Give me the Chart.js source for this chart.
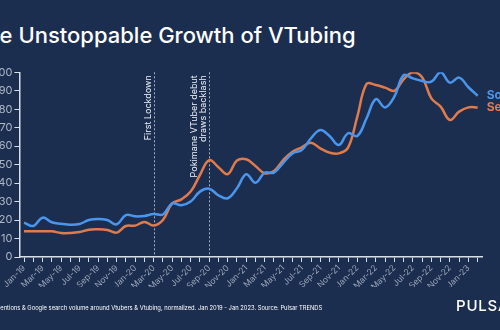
<!DOCTYPE html>
<html>
<head>
<meta charset="utf-8">
<script src="https://cdn.jsdelivr.net/npm/chart.js@4.4.0/dist/chart.umd.min.js"></script>
<style>
    html, body { margin: 0; padding: 0; }
    body {
        width: 500px;
        height: 330px;
        overflow: hidden;
        position: relative;
        background: #1c2e50;
        font-family: Inter, "Noto Sans", sans-serif;
        color: #ffffff;
    }
    .title {
        position: absolute;
        left: 0;
        top: 24px;
        font-size: 22px;
        line-height: 22px;
        font-weight: 500;
        white-space: nowrap;
    }
    #wrap {
        position: absolute;
        left: -30px;
        top: 0;
        width: 540px;
        height: 330px;
    }
    .note {
        position: absolute;
        left: 0;
        top: 303.5px;
        font-size: 5.8px;
        line-height: 8px;
        white-space: nowrap;
    }
    .brand {
        position: absolute;
        left: 456px;
        top: 298px;
        font-size: 15px;
        line-height: 16px;
        font-weight: 500;
        letter-spacing: 0.8px;
    }
</style>
</head>
<body>
<div class="title" id="title"><span id="titleLead">Th</span>e Unstoppable Growth of VTubing</div>
<div id="wrap"><canvas id="growthChart" width="540" height="330"></canvas></div>
<div class="note" id="note"><span id="noteLead">Social m</span>entions &amp; Google search volume around Vtubers &amp; Vtubing, normalized. Jan 2019 - Jan 2023. Source: Pulsar TRENDS</div>
<div class="brand">PULSAR</div>

<script>
// Monthly points, Jan 2019 to Feb 2023
const monthNames = ['Jan', 'Feb', 'Mar', 'Apr', 'May', 'Jun', 'Jul', 'Aug', 'Sep', 'Oct', 'Nov', 'Dec'];
const years = ['19', '20', '21', '22', '23'];
const monthCount = 50;

const socialValues = [
    18.6, 16.8, 21.3, 18.8, 18.0, 17.5, 17.9, 20.0, 20.6, 20.0, 17.7, 22.7,
    22.0, 22.2, 23.3, 23.0, 29.0, 28.0, 30.0, 35.4, 37.0, 33.4, 31.8, 37.2,
    44.8, 40.2, 45.6, 45.7, 51.0, 56.1, 57.9, 64.3, 68.8, 65.5, 60.6, 67.0,
    65.5, 75.1, 85.5, 81.0, 86.8, 98.4, 96.7, 95.3, 94.9, 100, 94.4, 97.1,
    91.9, 87.3
];
const searchValues = [
    13.9, 13.9, 13.9, 13.9, 13.0, 13.0, 13.5, 14.8, 15.0, 14.6, 13.2, 16.8,
    17.0, 19.0, 17.0, 20.0, 29.0, 31.2, 35.4, 44.4, 52.5, 48.6, 44.9, 52.2,
    52.9, 49.3, 45.3, 46.6, 52.5, 57.0, 59.4, 61.9, 58.8, 56.5, 56.1, 59.2,
    76.0, 93.7, 93.1, 91.7, 90.0, 96.2, 100, 97.3, 85.9, 81.4, 74.2, 78.7,
    81.0, 81.0
];

const seriesNames = ['Social', 'Search'];
const seriesColors = ['#4a96ec', '#e27b4c'];

const events = [
    { month: 'Mar-20', lines: ['First Lockdown'] },
    { month: 'Sep-20', lines: ['Pokimane VTuber debut', 'draws backlash'] }
];

const labels = [];
for (let i = 0; i < monthCount; i++) {
    labels.push(monthNames[i % 12] + '-' + years[Math.floor(i / 12)]);
}

// slide is cropped on the left: shift title and footnote past their first letters
document.getElementById('title').style.left = -document.getElementById('titleLead').offsetWidth + 'px';
document.getElementById('note').style.left = -document.getElementById('noteLead').offsetWidth + 'px';

const axisColor = '#d8dee8';

// dotted event markers with rotated captions
const eventLines = {
    id: 'eventLines',
    beforeDatasetsDraw(chart) {
        const ctx = chart.ctx;
        const area = chart.chartArea;
        const x = chart.scales.x;
        ctx.save();
        events.forEach(ev => {
            const px = Math.round(x.getPixelForValue(labels.indexOf(ev.month))) + 0.5;
            ctx.strokeStyle = 'rgba(210, 218, 230, 0.75)';
            ctx.lineWidth = 1;
            ctx.setLineDash([2, 2]);
            ctx.beginPath();
            ctx.moveTo(px, area.top);
            ctx.lineTo(px, area.bottom);
            ctx.stroke();

            ctx.save();
            ctx.translate(px, area.top + 3);
            ctx.rotate(-Math.PI / 2);
            ctx.fillStyle = '#eef1f6';
            ctx.font = '9px Inter, sans-serif';
            ctx.textAlign = 'right';
            ctx.textBaseline = 'middle';
            const n = ev.lines.length;
            ev.lines.forEach((line, j) => {
                ctx.fillText(line, 0, -6 - 9 * (n - 1 - j));
            });
            ctx.restore();
        });
        ctx.restore();
    }
};

// series names at the end of each line
const endLabels = {
    id: 'endLabels',
    afterDatasetsDraw(chart) {
        const ctx = chart.ctx;
        ctx.save();
        ctx.font = 'bold 12px Inter, sans-serif';
        ctx.textAlign = 'left';
        ctx.textBaseline = 'middle';
        chart.data.datasets.forEach((ds, i) => {
            const pts = chart.getDatasetMeta(i).data;
            const last = pts[pts.length - 1];
            ctx.fillStyle = ds.borderColor;
            ctx.fillText(ds.label, last.x + 9, last.y);
        });
        ctx.restore();
    }
};

const ctx = document.getElementById('growthChart').getContext('2d');
new Chart(ctx, {
    type: 'line',
    data: {
        labels: labels,
        datasets: [{
            label: seriesNames[0],
            data: socialValues,
            borderColor: seriesColors[0],
            borderWidth: 2.5,
            pointRadius: 0,
            tension: 0.4,
            fill: false
        }, {
            label: seriesNames[1],
            data: searchValues,
            borderColor: seriesColors[1],
            borderWidth: 2.5,
            pointRadius: 0,
            tension: 0.4,
            fill: false
        }]
    },
    options: {
        responsive: false,
        animation: false,
        plugins: {
            legend: { display: false },
            tooltip: { enabled: false }
        },
        layout: {
            padding: { top: 72.3, right: 27.7, bottom: 43, left: 0 }
        },
        scales: {
            x: {
                offset: true,
                grid: {
                    drawOnChartArea: false,
                    drawTicks: true,
                    tickLength: 5,
                    color: axisColor,
                    offset: false
                },
                border: { color: axisColor, width: 1.5 },
                ticks: {
                    autoSkip: false,
                    minRotation: 45,
                    maxRotation: 45,
                    padding: 1,
                    color: '#9ba6b9',
                    font: { size: 8.5, family: 'Inter, sans-serif' },
                    callback: (value, index) => index % 2 === 0 ? labels[index] : ''
                },
                afterFit(scale) {
                    scale.height = 30;
                }
            },
            y: {
                min: 0,
                max: 100,
                grid: {
                    drawOnChartArea: false,
                    drawTicks: true,
                    tickLength: 5,
                    color: axisColor
                },
                border: { color: axisColor, width: 1.5 },
                ticks: {
                    stepSize: 10,
                    padding: 2,
                    color: '#aeb7c6',
                    font: { size: 11, family: 'Inter, sans-serif' }
                },
                afterFit(scale) {
                    scale.width = 49.4;
                }
            }
        }
    },
    plugins: [eventLines, endLabels]
});
</script>
</body>
</html>
